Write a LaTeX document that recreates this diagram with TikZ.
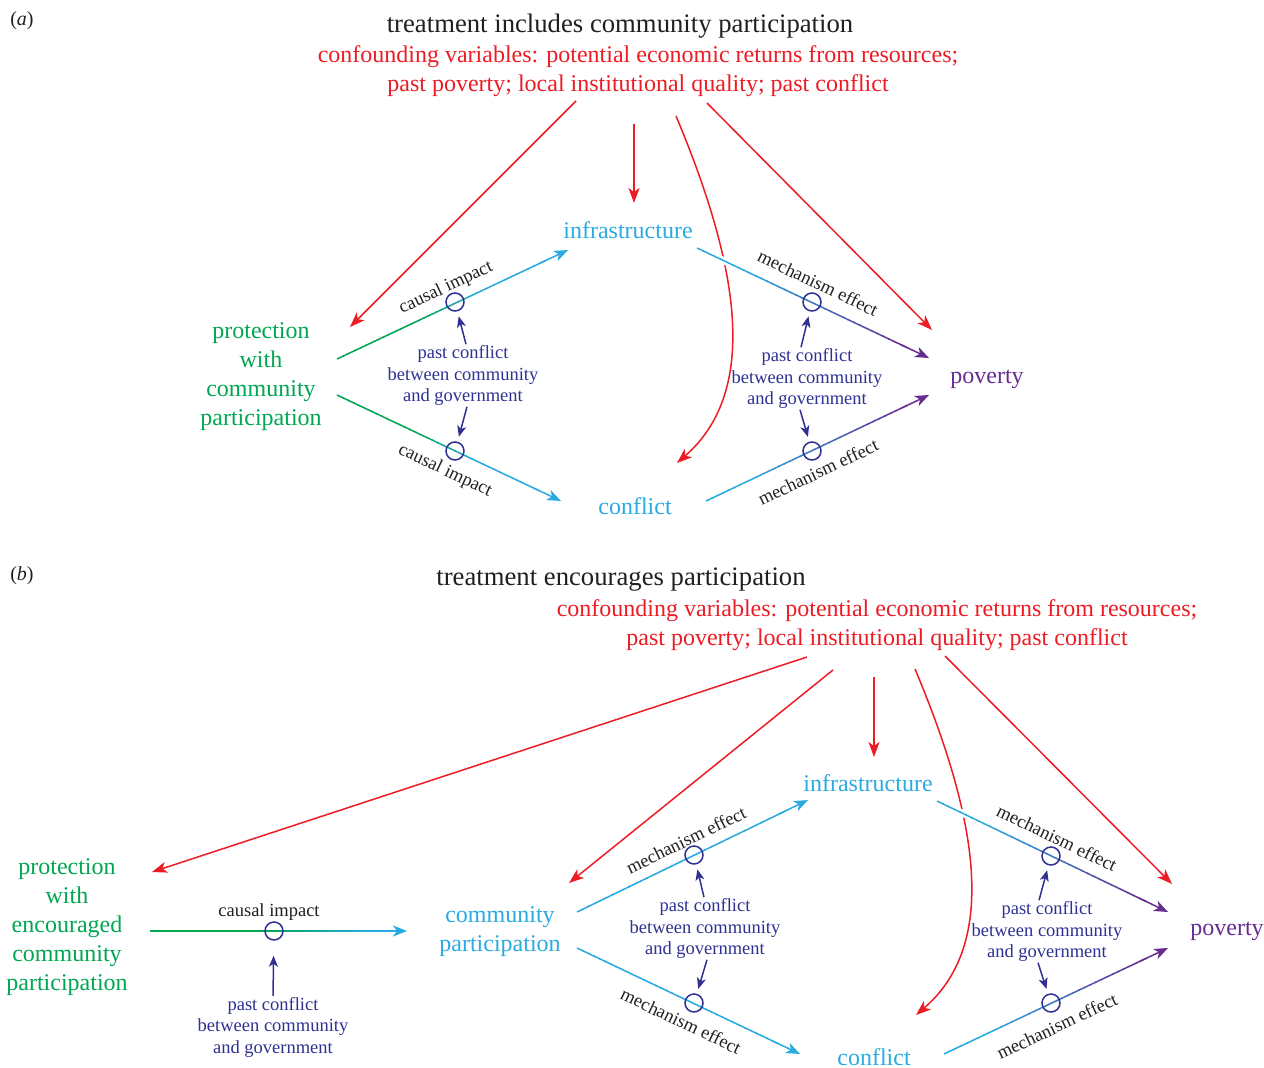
\documentclass[tikz,border=0pt]{standalone}
\usepackage{fontspec}
\setmainfont{Liberation Serif}
\usetikzlibrary{arrows.meta,calc}
\definecolor{cred}{HTML}{ED1C24}
\definecolor{csky}{HTML}{29ABE2}
\definecolor{cgreen}{HTML}{00A651}
\definecolor{cpurple}{HTML}{662D91}
\definecolor{cnavy}{HTML}{2E3192}
\definecolor{ctxt}{HTML}{231F20}
\tikzset{
 big/.style={font=\fontsize{24}{29}\selectfont, align=center, inner sep=1pt},
 ttl/.style={font=\fontsize{26.7}{31}\selectfont, text=ctxt, inner sep=1pt},
 pcnode/.style={font=\fontsize{18.5}{21.5}\selectfont, align=center, inner sep=1pt, text=cnavy},
 lbl/.style={font=\fontsize{18.5}{21.5}\selectfont, text=ctxt, inner sep=0pt},
 ring/.style={circle, draw=cnavy, line width=1.5pt, minimum size=18pt, inner sep=0pt},
 redarr/.style={draw=cred, line width=1.5pt, -{Stealth[length=15pt,width=11pt,inset=4pt]}},
 navyarr/.style={draw=cnavy, line width=1.5pt, -{Stealth[length=11pt,width=9pt,inset=3pt]}},
 tipstyle/.style={line width=1.5pt, -{Stealth[length=14pt,width=11pt,inset=4pt]}},
}
% gradient connector: #1 start, #2 end, #3 start colour, #4 end colour, #5 t0, #6 t1
\newcommand\gline[6]{%
  \draw[white, line width=7pt] ($(#1)!0.06!(#2)$) -- ($(#1)!0.94!(#2)$);
  \foreach \k in {0,...,35}{%
    \pgfmathsetmacro\gta{\k/40}%
    \pgfmathsetmacro\gtb{(\k+1.15)/40}%
    \pgfmathsetmacro\gmix{100*min(1,max(0,((\k+0.5)/40-#5)/(#6-#5)))}%
    \draw[line width=1.5pt, color={#4!\gmix!#3}] ($(#1)!\gta!(#2)$) -- ($(#1)!\gtb!(#2)$);
  }%
  \draw[tipstyle, color=#4] ($(#1)!0.88!(#2)$) -- (#2);
}
\begin{document}
\begin{tikzpicture}[x=1pt,y=-1pt]
\useasboundingbox (0,0) rectangle (1264,1068);
%================ panel (a)
\node[font=\fontsize{20}{24}\selectfont, text=ctxt] (labA) at (22,21) {(\textit{a})};
\node[ttl] (ttlA) at (620,26) {treatment includes community participation};
\node[big, text=cred] (confA) at (638,71.5) {confounding variables: potential economic returns from resources;\\past poverty; local institutional quality; past conflict};
\node[big, text=csky] (infA) at (628,230) {infrastructure};
\node[big, text=csky] (conA) at (635,506) {conflict};
\node[big, text=cpurple] (povA) at (987,379) {poverty};
\node[big, text=cgreen] (proA) at (261,377) {protection\\with\\community\\participation};
\node[pcnode] (pcA1) at (463,375.5) {past conflict\\between community\\and government};
\node[pcnode] (pcA2) at (807,378.5) {past conflict\\between community\\and government};
% red confounder arrows
\coordinate (rA1s) at (576,101); \coordinate (rA1e) at (350,327);
\coordinate (rA2s) at (634,124); \coordinate (rA2e) at (634,203);
\coordinate (rA3s) at (676,116); \coordinate (rA3e) at (677,463);
\coordinate (rA4s) at (707,103); \coordinate (rA4e) at (932,330);
\draw[redarr] (rA1s) -- (rA1e);
\draw[redarr] (rA2s) -- (rA2e);
\draw[redarr] (rA3s) .. controls (745,280) and (755,395) .. (rA3e);
\draw[redarr] (rA4s) -- (rA4e);
% connectors
\coordinate (pA1) at (337,359); \coordinate (iA1) at (568,250);
\coordinate (pA2) at (337,395); \coordinate (cA1) at (561,501);
\coordinate (iA2) at (697,248); \coordinate (vA1) at (929,358);
\coordinate (cA2) at (706,501); \coordinate (vA2) at (929,395);
\gline{pA1}{iA1}{cgreen}{csky}{0.35}{0.62}
\gline{pA2}{cA1}{cgreen}{csky}{0.35}{0.62}
\gline{iA2}{vA1}{csky}{cpurple}{0.2}{0.88}
\gline{cA2}{vA2}{csky}{cpurple}{0.2}{0.88}
\node[ring] (rgA1) at (455,302) {};
\node[ring] (rgA2) at (455,451) {};
\node[ring] (rgA3) at (812,302) {};
\node[ring] (rgA4) at (812,451) {};
\node[lbl, rotate=25.3] at (446,288) {causal impact};
\node[lbl, rotate=-25.3] at (445,471) {causal impact};
\node[lbl, rotate=-25.4] at (818,283) {mechanism effect};
\node[lbl, rotate=25.4] at (818,472) {mechanism effect};
\draw[navyarr, shorten >=5pt] ([xshift=3pt]pcA1.north) -- (rgA1);
\draw[navyarr, shorten >=5pt] ([xshift=4pt]pcA1.south) -- (rgA2);
\draw[navyarr, shorten >=5pt] ([xshift=-6pt]pcA2.north) -- (rgA3);
\draw[navyarr, shorten >=5pt] ([xshift=-7pt]pcA2.south) -- (rgA4);
%================ panel (b)
\node[font=\fontsize{20}{24}\selectfont, text=ctxt] (labB) at (22,576) {(\textit{b})};
\node[ttl] (ttlB) at (621,579.5) {treatment encourages participation};
\node[big, text=cred] (confB) at (877,625.5) {confounding variables: potential economic returns from resources;\\past poverty; local institutional quality; past conflict};
\node[big, text=cgreen] (proB) at (67,927) {protection\\with\\encouraged\\community\\participation};
\node[big, text=csky] (cpB) at (500,931.5) {community\\participation};
\node[big, text=csky] (infB) at (868,783) {infrastructure};
\node[big, text=csky] (conB) at (874,1057) {conflict};
\node[big, text=cpurple] (povB) at (1227,931) {poverty};
\node[pcnode] (pcB0) at (273,1027) {past conflict\\between community\\and government};
\node[pcnode] (pcB1) at (705,928.5) {past conflict\\between community\\and government};
\node[pcnode] (pcB2) at (1047,931.5) {past conflict\\between community\\and government};
% red confounder arrows
\coordinate (rB1s) at (807,657); \coordinate (rB1e) at (152,872);
\coordinate (rB2s) at (833,670); \coordinate (rB2e) at (569,883);
\coordinate (rB3s) at (874,677); \coordinate (rB3e) at (874,757);
\coordinate (rB4s) at (915,669); \coordinate (rB4e) at (916,1015);
\coordinate (rB5s) at (945,656); \coordinate (rB5e) at (1172,884);
\draw[redarr] (rB1s) -- (rB1e);
\draw[redarr] (rB2s) -- (rB2e);
\draw[redarr] (rB3s) -- (rB3e);
\draw[redarr] (rB4s) .. controls (984,833) and (994,948) .. (rB4e);
\draw[redarr] (rB5s) -- (rB5e);
% connectors
\coordinate (pB1) at (150,931); \coordinate (qB1) at (407,931);
\coordinate (qB2) at (577,912); \coordinate (iB1) at (808,800);
\coordinate (qB3) at (577,948); \coordinate (cB1) at (800,1054);
\coordinate (iB2) at (937,801); \coordinate (vB1) at (1168,912);
\coordinate (cB2) at (944,1054); \coordinate (vB2) at (1168,948);
\gline{pB1}{qB1}{cgreen}{csky}{0.45}{0.85}
\gline{qB2}{iB1}{csky}{csky}{0.2}{0.88}
\gline{qB3}{cB1}{csky}{csky}{0.2}{0.88}
\gline{iB2}{vB1}{csky}{cpurple}{0.2}{0.88}
\gline{cB2}{vB2}{csky}{cpurple}{0.2}{0.88}
\node[ring] (rgB0) at (274,931) {};
\node[ring] (rgB1) at (694,855) {};
\node[ring] (rgB2) at (694,1003) {};
\node[ring] (rgB3) at (1051,856) {};
\node[ring] (rgB4) at (1051,1003) {};
\node[lbl] at (269,912) {causal impact};
\node[lbl, rotate=25.9] at (686,840) {mechanism effect};
\node[lbl, rotate=-25.4] at (681,1021) {mechanism effect};
\node[lbl, rotate=-25.7] at (1057,838) {mechanism effect};
\node[lbl, rotate=25.3] at (1057,1026) {mechanism effect};
\draw[navyarr, shorten >=15pt] (pcB0.north) -- (rgB0);
\draw[navyarr, shorten >=5pt] ([xshift=-1pt]pcB1.north) -- (rgB1);
\draw[navyarr, shorten >=5pt] ([xshift=2pt]pcB1.south) -- (rgB2);
\draw[navyarr, shorten >=5pt] ([xshift=-8pt]pcB2.north) -- (rgB3);
\draw[navyarr, shorten >=5pt] ([xshift=-9pt]pcB2.south) -- (rgB4);
\end{tikzpicture}
\end{document}
